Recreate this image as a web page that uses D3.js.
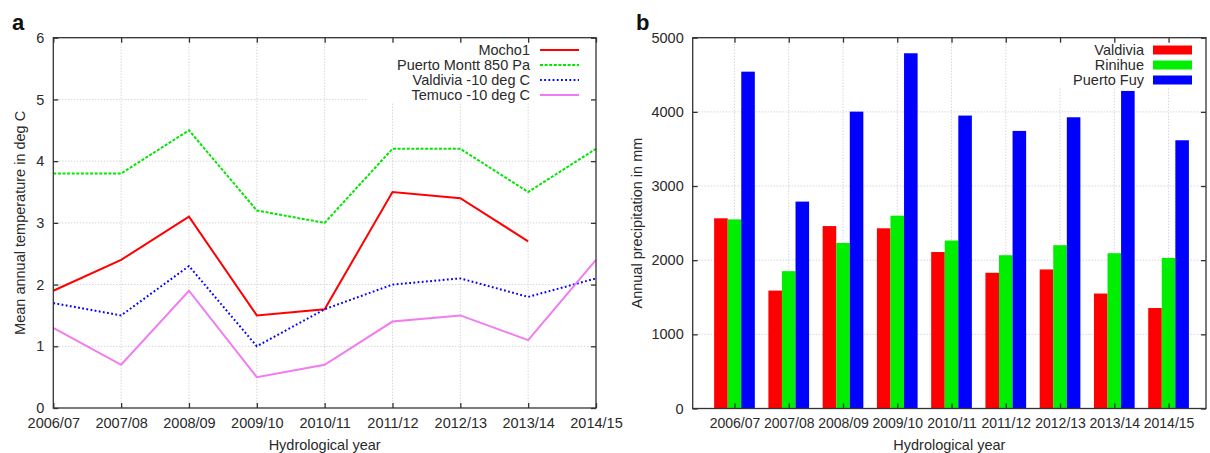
<!DOCTYPE html>
<html>
<head>
<meta charset="utf-8">
<script src="https://cdn.jsdelivr.net/npm/d3@7"></script>
<style>
  body { margin: 0; background: #fff; }
  svg text { font-family: "Liberation Sans", Arial, sans-serif; fill: #2a2a2a; }
</style>
</head>
<body>
<div id="chart"></div>
<script>
// hydrological years shared by both panels
let years = ['2006/07', '2007/08', '2008/09', '2009/10', '2010/11', '2011/12', '2012/13', '2013/14', '2014/15'];

// panel a: mean annual temperature (deg C)
let mocho1 = [1.9, 2.4, 3.1, 1.5, 1.6, 3.5, 3.4, 2.7, null];
let puertoMontt = [3.8, 3.8, 4.5, 3.2, 3.0, 4.2, 4.2, 3.5, 4.2];
let valdiviaTemp = [1.7, 1.5, 2.3, 1.0, 1.6, 2.0, 2.1, 1.8, 2.1];
let temuco = [1.3, 0.7, 1.9, 0.5, 0.7, 1.4, 1.5, 1.1, 2.4];
let tempTicks = [0, 1, 2, 3, 4, 5, 6];

// panel b: annual precipitation (mm)
let valdiviaPrec = [2565, 1590, 2460, 2430, 2110, 1830, 1875, 1550, 1355];
let rinihue = [2550, 1852, 2232, 2600, 2265, 2067, 2202, 2094, 2030];
let puertoFuy = [4542, 2790, 4003, 4790, 3950, 3743, 3927, 4282, 3617];
let precTicks = [0, 1000, 2000, 3000, 4000, 5000];

let width = 1210, height = 453;
let fs = '14.5px';

let svg = d3.select('#chart').append('svg')
    .attr('width', width)
    .attr('height', height);

let idx = d3.range(years.length);

// ---------- panel a ----------
let aLeft = 53.3, aRight = 596, aTop = 37.7, aBottom = 408;

let xa = d3.scaleLinear().domain([0, 8]).range([aLeft, aRight]);
let ya = d3.scaleLinear().domain([0, 6]).range([aBottom, aTop]);

let ga = svg.append('g');

// grid
ga.selectAll('.hgrid')
    .data(tempTicks.slice(1, -1))
    .join('line')
    .attr('x1', aLeft).attr('x2', aRight)
    .attr('y1', d => ya(d)).attr('y2', d => ya(d))
    .attr('stroke', '#c4c4c4').attr('stroke-dasharray', '1,2');
ga.selectAll('.vgrid')
    .data(idx.slice(1, -1))
    .join('line')
    .attr('x1', d => xa(d)).attr('x2', d => xa(d))
    .attr('y1', aTop).attr('y2', aBottom)
    .attr('stroke', '#c4c4c4').attr('stroke-dasharray', '1,2');

// legend background hides grid
ga.append('rect')
    .attr('x', 367).attr('y', aTop).attr('width', aRight - 367).attr('height', 65)
    .attr('fill', '#fff');

let tempSeries = [
    {name: 'Mocho1', values: mocho1, color: '#ff0000', dash: null},
    {name: 'Puerto Montt 850 Pa', values: puertoMontt, color: '#00e600', dash: '3,1.6'},
    {name: 'Valdivia -10 deg C', values: valdiviaTemp, color: '#0000ff', dash: '1.8,2.4'},
    {name: 'Temuco -10 deg C', values: temuco, color: '#f07cf0', dash: null}
];

let line = d3.line()
    .defined(d => d[1] !== null)
    .x(d => xa(d[0]))
    .y(d => ya(d[1]));

ga.selectAll('.series')
    .data(tempSeries)
    .join('path')
    .attr('class', 'series')
    .attr('d', s => line(s.values.map((v, i) => [i, v])))
    .attr('fill', 'none')
    .attr('stroke', s => s.color)
    .attr('stroke-width', 2)
    .attr('stroke-dasharray', s => s.dash);

// axes with inward ticks
ga.append('g')
    .attr('class', 'xa')
    .attr('transform', `translate(0, ${aBottom})`)
    .call(d3.axisBottom(xa).tickValues(idx).tickFormat(i => years[i]).tickSize(-5).tickPadding(10));
ga.append('g')
    .attr('transform', `translate(0, ${aTop})`)
    .call(d3.axisTop(xa).tickValues(idx).tickFormat('').tickSize(-5));
ga.append('g')
    .attr('transform', `translate(${aLeft}, 0)`)
    .call(d3.axisLeft(ya).tickValues(tempTicks).tickFormat(d3.format('d')).tickSize(-5).tickPadding(9));
ga.append('g')
    .attr('transform', `translate(${aRight}, 0)`)
    .call(d3.axisRight(ya).tickValues(tempTicks).tickFormat('').tickSize(-5));

ga.append('rect')
    .attr('x', aLeft).attr('y', aTop)
    .attr('width', aRight - aLeft).attr('height', aBottom - aTop)
    .attr('fill', 'none').attr('stroke', '#333').attr('stroke-width', 1.3);

// legend
let legA = ga.selectAll('.leg')
    .data(tempSeries)
    .join('g')
    .attr('transform', (d, i) => `translate(0, ${50 + i * 15})`);
legA.append('text')
    .attr('x', 530).attr('dy', '0.35em')
    .attr('text-anchor', 'end')
    .style('font-size', fs)
    .text(d => d.name);
legA.append('line')
    .attr('x1', 540).attr('x2', 579)
    .attr('stroke', d => d.color)
    .attr('stroke-width', 2)
    .attr('stroke-dasharray', d => d.dash);

// labels
ga.append('text')
    .attr('x', (aLeft + aRight) / 2).attr('y', 450)
    .attr('text-anchor', 'middle')
    .style('font-size', fs)
    .text('Hydrological year');
ga.append('text')
    .attr('transform', `translate(25, ${(aTop + aBottom) / 2}) rotate(-90)`)
    .attr('text-anchor', 'middle')
    .style('font-size', fs)
    .text('Mean annual temperature in deg C');
ga.append('text')
    .attr('x', 12).attr('y', 30)
    .style('font-size', '22px').style('font-weight', 'bold')
    .style('fill', '#111')
    .text('a');

// ---------- panel b ----------
let bLeft = 692.7, bRight = 1206, bTop = 37.7, bBottom = 408.5;

let xb = d3.scaleLinear().domain([-0.77, 8.69]).range([bLeft, bRight]);
let yb = d3.scaleLinear().domain([0, 5000]).range([bBottom, bTop]);

let gb = svg.append('g');

gb.selectAll('.hgrid')
    .data(precTicks.slice(1, -1))
    .join('line')
    .attr('x1', bLeft).attr('x2', bRight)
    .attr('y1', d => yb(d)).attr('y2', d => yb(d))
    .attr('stroke', '#c4c4c4').attr('stroke-dasharray', '1,2');
gb.selectAll('.vgrid')
    .data(idx)
    .join('line')
    .attr('x1', d => xb(d)).attr('x2', d => xb(d))
    .attr('y1', bTop).attr('y2', bBottom)
    .attr('stroke', '#c4c4c4').attr('stroke-dasharray', '1,2');

gb.append('rect')
    .attr('x', 1030).attr('y', bTop).attr('width', bRight - 1030).attr('height', 49)
    .attr('fill', '#fff');

let precSeries = [
    {name: 'Valdivia', values: valdiviaPrec, color: '#ff0000'},
    {name: 'Rinihue', values: rinihue, color: '#00ee00'},
    {name: 'Puerto Fuy', values: puertoFuy, color: '#0000ff'}
];

let barW = 0.25;
precSeries.forEach((s, k) => {
    gb.append('g').selectAll('rect')
        .data(s.values)
        .join('rect')
        .attr('x', (d, i) => xb(i - 0.375 + k * barW))
        .attr('width', xb(barW) - xb(0))
        .attr('y', d => yb(d))
        .attr('height', d => yb(0) - yb(d))
        .attr('fill', s.color);
});

gb.append('g')
    .attr('class', 'xb')
    .attr('transform', `translate(0, ${bBottom})`)
    .call(d3.axisBottom(xb).tickValues(idx).tickFormat(i => years[i]).tickSize(-5).tickPadding(10));
gb.append('g')
    .attr('transform', `translate(0, ${bTop})`)
    .call(d3.axisTop(xb).tickValues(idx).tickFormat('').tickSize(-5));
gb.append('g')
    .attr('transform', `translate(${bLeft}, 0)`)
    .call(d3.axisLeft(yb).tickValues(precTicks).tickFormat(d3.format('d')).tickSize(-5).tickPadding(9));
gb.append('g')
    .attr('transform', `translate(${bRight}, 0)`)
    .call(d3.axisRight(yb).tickValues(precTicks).tickFormat('').tickSize(-5));

gb.append('rect')
    .attr('x', bLeft).attr('y', bTop)
    .attr('width', bRight - bLeft).attr('height', bBottom - bTop)
    .attr('fill', 'none').attr('stroke', '#333').attr('stroke-width', 1.3);

let legB = gb.selectAll('.leg')
    .data(precSeries)
    .join('g')
    .attr('transform', (d, i) => `translate(0, ${50 + i * 15})`);
legB.append('text')
    .attr('x', 1144).attr('dy', '0.35em')
    .attr('text-anchor', 'end')
    .style('font-size', fs)
    .text(d => d.name);
legB.append('rect')
    .attr('x', 1153).attr('y', -4.5)
    .attr('width', 39).attr('height', 9)
    .attr('fill', d => d.color);

gb.append('text')
    .attr('x', (bLeft + bRight) / 2).attr('y', 450)
    .attr('text-anchor', 'middle')
    .style('font-size', fs)
    .text('Hydrological year');
gb.append('text')
    .attr('transform', `translate(642, ${(bTop + bBottom) / 2}) rotate(-90)`)
    .attr('text-anchor', 'middle')
    .style('font-size', fs)
    .text('Annual precipitation in mm');
gb.append('text')
    .attr('x', 636).attr('y', 30)
    .style('font-size', '22px').style('font-weight', 'bold')
    .style('fill', '#111')
    .text('b');

// axis styling
svg.selectAll('.domain').remove();
svg.selectAll('.tick line').attr('stroke', '#333').attr('stroke-width', 1.3);
svg.selectAll('.tick text').style('font-size', fs).style('fill', '#2a2a2a');
svg.selectAll('.xb .tick text').style('font-size', '14px');
</script>
</body>
</html>
